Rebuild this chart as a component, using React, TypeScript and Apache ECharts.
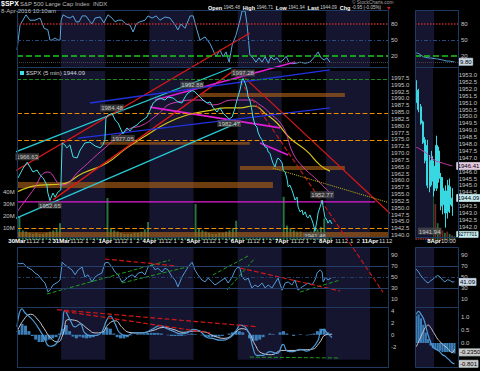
import React, { useEffect, useRef } from "react";
import * as echarts from "echarts";

// ---------------- header values ----------------
const symbolName = "$SPX";
const symbolDesc = "S&P 500 Large Cap Index  INDX";
const stampText = "8-Apr-2016 10:10am";
const quoteItems = [["Open", "1945.48"], ["High", "1946.71"], ["Low", "1941.94"], ["Last", "1944.09"], ["Chg", "-0.95 (-0.05%)"]];
const legendText = "$SPX (5 min) 1944.09";

// ---------------- left (5 min, several days) ----------------
// x unit: half-hour slot since the first session open (13 slots per session)
const dayLabels = ["30Mar", "31Mar", "1Apr", "4Apr", "5Apr", "6Apr", "7Apr", "8Apr", "11Apr"];
const hourTicks = ["", "", "", "11", "", "12", "", "1", "", "2", "", "", ""];
const dayBands = [[13, 26], [39, 52], [65, 78], [91, 104]];

const spxPrice = [
  [0.3, 1960.9], [1.8, 1964.5], [3.0, 1966.63], [4.7, 1963.1], [5.9, 1963.8], [6.8, 1962.0], [7.7, 1960.9],
  [8.8, 1958.3], [9.1, 1955.4], [9.7, 1952.65], [10.6, 1955.4], [11.2, 1953.9], [12.1, 1955.8], [12.9, 1956.5],
  [13.3, 1973.7], [14.1, 1973.0], [14.7, 1971.9], [15.6, 1973.0], [16.5, 1968.6], [17.7, 1968.2], [18.6, 1971.1],
  [20.0, 1973.7], [21.5, 1974.0], [23.0, 1972.6], [24.5, 1971.9], [25.3, 1973.0], [25.9, 1974.8], [26.2, 1982.8],
  [26.8, 1983.9], [28.0, 1984.48], [28.9, 1982.1], [29.8, 1981.0], [30.3, 1979.5], [31.2, 1977.05], [32.4, 1979.2],
  [33.3, 1978.1], [34.2, 1979.5], [35.4, 1980.3], [36.2, 1981.4], [37.1, 1982.1], [38.3, 1983.2], [39.2, 1985.7],
  [40.1, 1988.3], [41.2, 1989.4], [42.1, 1990.1], [43.6, 1989.4], [44.5, 1990.5], [46.0, 1990.1], [47.4, 1988.7],
  [48.6, 1988.3], [49.5, 1990.5], [50.4, 1992.0], [51.6, 1992.88], [52.4, 1992.4], [53.9, 1990.5], [54.8, 1989.4],
  [56.0, 1988.3], [56.9, 1988.7], [57.7, 1986.8], [58.9, 1985.0], [59.8, 1986.5], [60.7, 1984.6], [61.9, 1983.2],
  [62.5, 1982.47], [63.4, 1983.2], [64.3, 1986.8], [64.8, 1989.4], [65.7, 1993.1], [66.3, 1996.7], [66.6, 1997.28],
  [67.2, 1995.6], [67.8, 1993.1], [68.1, 1990.5], [68.6, 1989.4], [69.2, 1985.7], [69.5, 1983.2], [70.1, 1980.3],
  [70.7, 1979.5], [71.0, 1977.7], [71.6, 1975.9], [72.2, 1974.8], [72.5, 1973.7], [73.1, 1972.2], [73.7, 1971.9],
  [74.0, 1970.4], [74.5, 1970.0], [75.1, 1967.5], [75.4, 1966.4], [76.0, 1964.9], [76.6, 1967.5], [76.9, 1968.2],
  [77.5, 1967.5], [78.1, 1966.4], [78.4, 1963.8], [79.0, 1963.1], [79.6, 1960.2], [79.9, 1957.6], [80.4, 1958.3],
  [81.0, 1956.5], [81.3, 1955.4], [81.9, 1952.85], [82.5, 1953.9], [82.8, 1950.3], [83.4, 1948.5], [84.0, 1949.2],
  [84.3, 1947.4], [84.9, 1948.5], [85.4, 1946.6], [85.7, 1946.3], [86.3, 1947.4], [86.9, 1945.5], [87.2, 1944.4],
  [87.8, 1941.46], [88.4, 1945.5], [88.7, 1948.1], [89.3, 1950.3], [89.9, 1952.77], [90.2, 1950.3], [90.7, 1946.6],
  [91.3, 1945.5], [91.6, 1944.4], [92.2, 1945.5], [92.8, 1944.09],
];
const pivotHighs = [[3.0, 1966.63], [28.0, 1984.48], [51.6, 1992.88], [66.6, 1997.28], [89.9, 1952.77]];
const pivotLows = [[9.7, 1952.65], [31.2, 1977.05], [62.5, 1982.47], [87.8, 1941.46]];

const maPink = [
  [0, 1948.5], [4.5, 1956.0], [9.1, 1963.1], [13.3, 1958.3], [18.6, 1963.8], [25.9, 1971.9], [32.4, 1978.4],
  [37.1, 1980.3], [41.2, 1983.9], [46.0, 1988.3], [53.9, 1989.4], [57.7, 1987.6], [63.6, 1989.4], [68.6, 1989.4],
  [71.6, 1987.6], [74.5, 1984.6], [78.4, 1979.5], [81.3, 1970.0], [84.3, 1964.9], [88.4, 1960.2], [92.2, 1955.4],
];
const maYellow = [
  [0, 1955.8], [6.8, 1958.3], [12.7, 1958.6], [19.5, 1962.7], [26.5, 1966.4], [32.4, 1971.9], [38.3, 1976.6],
  [44.2, 1981.0], [50.1, 1983.9], [56.0, 1985.4], [61.9, 1986.5], [65.7, 1986.5], [69.5, 1987.2], [73.7, 1983.9],
  [76.6, 1981.0], [80.4, 1975.5], [85.4, 1970.7], [89.3, 1965.6], [92.2, 1963.4],
];
// volume in millions per half-hour slot
const volumeM = [
  20, 8, 7, 6, 5, 6, 5, 5, 6, 7, 8, 9, 14,
  40, 12, 9, 7, 6, 6, 5, 5, 6, 6, 7, 8, 13,
  35, 10, 8, 7, 6, 5, 5, 5, 6, 6, 7, 9, 15,
  38, 11, 8, 7, 6, 6, 5, 5, 6, 7, 8, 9, 14,
  30, 10, 8, 7, 6, 5, 5, 6, 6, 7, 8, 10, 16,
  40, 12, 9, 8, 7, 6, 6, 6, 7, 8, 9, 10, 15,
  36, 12, 10, 8, 7, 7, 6, 6, 7, 8, 9, 11, 18,
  34, 14,
];
const stochTop = [
  [0, 32], [0.9, 78], [2.65, 97], [3.8, 87], [5.3, 87], [6.8, 91], [8.0, 72], [9.1, 69], [9.7, 50], [10.3, 50],
  [11.2, 54], [12.1, 50], [12.7, 50], [13.0, 87], [13.55, 97], [14.7, 93], [15.6, 91], [16.5, 95], [17.4, 84],
  [18.3, 84], [19.2, 95], [20.3, 95], [21.2, 87], [22.1, 80], [23.0, 91], [24.5, 93], [25.6, 82], [26.8, 97],
  [28.0, 91], [28.9, 84], [29.8, 87], [30.9, 87], [32.1, 80], [33.3, 78], [34.2, 65], [35.1, 80], [36.2, 84],
  [37.7, 87], [38.6, 95], [39.8, 91], [41.0, 95], [42.1, 87], [43.6, 93], [45.1, 91], [46.6, 78], [47.4, 69],
  [48.3, 80], [49.5, 72], [51.0, 95], [51.9, 95], [53.0, 69], [53.9, 50], [55.4, 56], [56.9, 43], [57.7, 32],
  [58.6, 19], [59.8, 32], [60.7, 19], [61.6, 28], [62.5, 9], [63.4, 41], [64.5, 59], [65.7, 87], [66.3, 104],
  [67.2, 104], [67.8, 78], [68.6, 22], [69.5, 17], [70.4, 9], [71.3, 17], [72.2, 9], [73.1, 19], [74.0, 7],
  [74.8, 19], [75.7, 13], [76.6, 17], [77.5, 9], [78.4, 13], [79.3, 20], [80.1, 9], [81.0, 6], [82.2, 7],
  [83.4, 9], [84.9, 7], [86.3, 9], [87.8, 20], [88.7, 28], [89.6, 17], [90.5, 13], [91.3, 17], [92.2, 9],
];
const rsiMid = [
  [0, 75.5], [0.9, 74], [1.8, 75], [2.9, 68], [4.4, 63], [5.3, 57], [6.2, 54], [7.4, 44.5], [8.25, 39], [9.1, 23],
  [9.7, 26], [10.6, 35.5], [12.1, 41], [12.7, 44.5], [13.3, 77], [14.1, 72], [15.0, 68], [16.2, 63], [17.1, 54],
  [18.0, 63], [19.2, 68], [20.0, 50], [20.9, 54], [22.1, 41], [23.0, 50], [23.9, 54], [25.0, 57], [25.9, 75.5],
  [26.8, 77], [28.0, 68], [28.9, 59], [29.8, 54], [30.9, 41], [31.8, 44.5], [32.7, 50], [33.9, 54], [34.8, 50],
  [35.7, 57], [36.8, 59], [37.7, 54], [38.6, 68], [39.8, 72], [40.7, 63], [41.5, 66], [42.7, 59], [43.6, 66],
  [44.5, 63], [45.7, 50], [46.6, 44.5], [47.4, 32], [48.6, 50], [49.5, 59], [50.4, 68], [51.6, 77], [52.4, 63],
  [53.3, 54], [54.5, 44.5], [55.4, 41], [56.3, 48], [57.5, 41], [58.3, 35.5], [59.2, 39], [60.4, 44.5], [61.3, 48],
  [62.2, 39], [63.4, 50], [64.3, 63], [65.1, 68], [65.7, 66], [66.3, 50], [67.2, 44.5], [68.1, 48], [69.2, 30],
  [70.1, 35.5], [71.0, 32], [72.2, 39], [73.1, 30], [74.0, 35.5], [75.1, 30], [76.0, 39], [76.9, 48], [78.1, 26],
  [79.0, 39], [79.9, 41], [81.0, 35.5], [81.9, 44.5], [82.8, 26], [84.0, 32], [84.9, 35.5], [85.7, 39], [86.9, 35.5],
  [87.8, 44.5], [88.4, 57], [89.3, 63], [89.9, 59], [90.2, 41], [91.0, 50], [91.6, 44.5], [92.5, 48],
];
const macdLine = [
  [0, 1.33], [1.5, 4.3], [2.4, 3.6], [4.7, 2.4], [7.7, -0.15], [9.7, -1.9], [11.8, -1.3], [13.3, 1.3], [14.1, 4.0],
  [15.6, 2.5], [17.1, 1.3], [18.6, 1.8], [20.0, 0.3], [22.4, -0.15], [24.5, 0.15], [26.5, 2.5], [27.4, 3.1],
  [28.9, 1.8], [30.3, 0.3], [32.4, -0.15], [34.2, 0.3], [37.1, 0.3], [40.1, 1.0], [42.1, 1.5], [44.2, 1.0],
  [46.0, 0.6], [48.0, 0.15], [50.1, 0.3], [51.9, 0.9], [53.9, 0.6], [56.0, -0.45], [57.7, -0.6], [59.8, -0.9],
  [62.8, -0.45], [64.8, 0.9], [65.7, 1.6], [67.2, 1.3], [68.6, -0.15], [69.5, -2.1], [70.7, -3.4], [72.5, -3.4],
  [74.5, -2.8], [76.6, -3.1], [78.4, -1.6], [79.6, -2.7], [81.3, -2.8], [83.4, -2.4], [85.4, -2.7], [87.2, -2.1],
  [88.7, -0.9], [89.3, 0.3], [90.2, 0.9], [91.6, 0.15], [92.8, -0.45],
];
const macdSignal = [
  [0, 0.5], [2, 2.5], [4, 3.4], [6, 2.6], [8, 1.0], [10, -0.6], [12, -1.2], [13.5, 0.0], [15, 2.5], [17, 2.4],
  [19, 1.8], [21, 0.9], [23, 0.3], [25, 0.4], [27, 1.8], [29, 2.3], [31, 1.2], [33, 0.4], [36, 0.3], [40, 0.7],
  [43, 1.2], [46, 0.9], [49, 0.4], [52, 0.6], [55, 0.5], [58, -0.2], [61, -0.6], [64, 0.2], [66, 1.0], [68, 0.6],
  [70, -1.5], [72, -3.0], [75, -3.3], [78, -2.6], [81, -2.6], [84, -2.5], [87, -2.4], [89, -1.4], [91, 0.0],
  [92.8, 0.1],
];
const macdHist = [
  0.8, 1.8, 1.5, 0.6, -0.2, -0.8, -1.2, -1.2, -1.0, -0.8, -0.6, -0.4, 0.2,
  1.0, 1.6, 0.6, -0.3, -0.6, -0.3, -0.5, -0.6, -0.5, -0.4, -0.2, 0.0, 0.6,
  1.2, 1.0, 0.2, -0.4, -0.6, -0.6, -0.4, -0.1, 0.0, 0.1, 0.1, 0.2, 0.3,
  0.3, 0.3, 0.3, 0.2, 0.0, -0.1, -0.2, -0.2, -0.2, -0.2, -0.1, 0.1, 0.2,
  0.1, 0.0, -0.1, -0.3, -0.4, -0.4, -0.4, -0.3, -0.2, 0.0, 0.2, 0.4, 0.6,
  0.6, 0.4, 0.0, -0.6, -1.0, -1.0, -0.8, -0.4, 0.0, 0.2, 0.1, 0.0, 0.4,
  0.6, 0.2, 0.0, -0.2, 0.0, 0.1, 0.0, -0.1, 0.1, 0.2, 0.6, 1.0, 1.0,
  0.4, 0.1,
];

// annotation levels / zones / trendlines (slot, price)
const levelsOrange = [1984.6, 1974.8, 1942.6];
const levelGreen = 1997.0;
const levelMagenta = 1952.2;
const zones = [
  [-5, 109.3, 1939.3, 1941.2],
  [-5, 75.4, 1957.2, 1959.4],
  [65.7, 96.6, 1963.8, 1965.3],
  [54.0, 96.6, 1990.5, 1992.0],
  [24.5, 68.6, 1973.0, 1974.05],
];
const cyanLines = [
  [[-5.0, 1968.2], [63.1, 2001.1]],
  [[-5.0, 1943.7], [65.7, 1981.4]],
];
const redRise = [
  [[-5.0, 1960.2], [68.6, 2013.9]],
  [[10.6, 1952.9], [64.3, 2000.5]],
];
const redFall = [
  [[67.2, 1997.4], [112.0, 1945.5]],
];
const redFallDashed = [
  [[64.5, 1998.5], [107.8, 1919.2]],
];
const magentaLines = [
  [[40.7, 1989.4], [81.9, 2003.3]],
  [[39.2, 1986.8], [77.5, 1979.2]],
  [[71.6, 1973.7], [79.9, 1969.3]],
];
const blueLines = [
  [[21.5, 1988.3], [92.2, 2000.4]],
  [[18.0, 1975.5], [92.2, 1986.5]],
];
const yellowDotted = [[75.4, 1964.5], [114.9, 1949.9]];
const rsiGreenLines = [
  [[8.8, 19.1], [45.1, 80.9]],
  [[30.9, 39.1], [50.1, 68.2]],
  [[57.7, 53.6], [68.6, 90]],
  [[61.9, 26.4], [70.1, 84.5]],
  [[83.4, 22.7], [95.2, 44.5]],
];
const rsiRedLines = [
  [[25.9, 82.7], [47.1, 70]],
  [[65.7, 66.4], [95.2, 24.5]],
];
const macdRedLines = [
  [[11.8, 4.15], [70.7, 1.33]],
  [[14.1, 3.85], [56.9, 0.3]],
];
const macdGreenLines = [[[68.6, -3.7], [95.2, -3.85]]];

// ---------------- right (5 min, last bars) ----------------
const rightTimes = ["15:20", "15:25", "15:30", "15:35", "15:40", "15:45", "15:50", "15:55", "9:30", "9:35", "9:40",
  "9:45", "9:50", "9:55", "10:00", "10:05", "10:10", "10:15"];
const rightMarks = { 8: "8Apr", 14: "10:00" } as Record<number, string>;
// [open, close, low, high]
const rightCandles = [
  [1952.6, 1951.0, 1950.9, 1952.8], [1951.9, 1950.5, 1950.3, 1952.0], [1950.7, 1949.5, 1949.4, 1950.9],
  [1949.6, 1948.1, 1948.0, 1949.7], [1948.3, 1946.8, 1946.6, 1948.5], [1947.9, 1945.0, 1944.8, 1948.3],
  [1946.8, 1944.9, 1944.5, 1947.2], [1945.3, 1947.1, 1945.0, 1947.5], [1946.4, 1944.6, 1944.2, 1946.8],
  [1944.8, 1947.9, 1944.6, 1948.6], [1947.5, 1945.5, 1945.2, 1947.8], [1945.6, 1943.5, 1943.2, 1945.9],
  [1943.6, 1944.8, 1942.9, 1945.6], [1944.6, 1943.0, 1941.94, 1945.0], [1943.1, 1945.0, 1942.6, 1945.4],
  [1944.9, 1943.6, 1943.0, 1945.5], [1943.5, 1944.09, 1942.8, 1944.8],
];
const rightLow = [6, 1941.94];
const rightVolume = [5, 6, 8, 10, 14, 22, 35, 42, 30, 14, 10, 8, 6, 7, 5, 4, 3];
const rightMA = [1947.75, 1947.7, 1947.6, 1947.5, 1947.4, 1947.25, 1947.1, 1946.95, 1946.85, 1946.75, 1946.7,
  1946.65, 1946.6, 1946.55, 1946.5, 1946.45, 1946.41];
const rightStoch = [26, 25, 22, 19, 18, 17, 16.7, 16, 15.5, 15, 14, 13, 12, 11, 11, 10, 9.8];
const rightRsi = [64.5, 59, 52, 47, 42, 39, 43, 46, 50, 53, 50, 44.5, 41, 45, 44, 41, 41.09];
const rightMacd = [1.1, 1.22, 1.1, 0.95, 0.65, 0.3, 0.05, -0.15, -0.22, -0.28, -0.35, -0.45, -0.5, -0.58, -0.67,
  -0.76, -0.801];
const rightSignal = [-0.15, 0.05, 0.25, 0.45, 0.62, 0.69, 0.6, 0.45, 0.3, 0.15, 0.05, -0.05, -0.12, -0.2, -0.3,
  -0.38, -0.235];
const rightHist = [1.05, 1.1, 0.95, 0.7, 0.4, 0.15, -0.1, -0.2, -0.25, -0.3, -0.3, -0.35, -0.35, -0.35, -0.35,
  -0.37, -0.4];
const rightVolumeLast = "9277701";

// ---------------- styling ----------------
const FONT = "Liberation Sans";
const LBL = { color: "#c4c4c4", fontSize: 6, fontFamily: FONT };
const BAND = "#15152f";
const FRAME = "#1f3a60";
const LMAX = 109.3;

function buildOption(): any {
  const none = ["none", "none"];
  const hiddenX = (gi: number) => ({ type: "value", gridIndex: gi, min: 0, max: LMAX, show: false });
  const hiddenXR = (gi: number) => ({ type: "value", gridIndex: gi, min: -0.5, max: 17.5, show: false });
  const yBase = (gi: number, min: number, max: number, interval: number, fmt: (v: number) => string, pos = "right") => ({
    type: "value", gridIndex: gi, min, max, interval, position: pos,
    axisLine: { show: false }, axisTick: { show: false }, splitLine: { show: false },
    axisLabel: { ...LBL, margin: 3, formatter: fmt },
  });
  const only = (vals: number[], dec = 0, suffix = "") => (v: number) =>
    vals.some((t) => Math.abs(t - v) < 1e-6) ? v.toFixed(dec) + suffix : "";

  const trend = (name: string, pts: number[][], xi: number, yi: number, color: string, width = 1.2, type: any = "solid", z = 4) => ({
    name, type: "line", xAxisIndex: xi, yAxisIndex: yi, data: pts, symbol: "none", clip: false, silent: true, z,
    lineStyle: { color, width, type },
  });
  const bandArea = (xi: number, yi: number, ylo?: number, yhi?: number, ranges = dayBands) => ({
    type: "line", xAxisIndex: xi, yAxisIndex: yi, data: [], silent: true, clip: false, z: 0,
    markArea: {
      silent: true, itemStyle: { color: BAND },
      data: ranges.map(([a, b]) =>
        ylo === undefined ? [{ xAxis: a }, { xAxis: b }] : [{ xAxis: a, yAxis: ylo }, { xAxis: b, yAxis: yhi }]),
    },
  });
  // value box drawn just right of a right-hand panel, at the level of the value
  const endBox = (xi: number, yi: number, v: number, text: string, bg: string, size = 6) => ({
    type: "line", xAxisIndex: xi, yAxisIndex: yi, data: [], silent: true, z: 20, zlevel: 1,
    markLine: {
      silent: true, symbol: none,
      lineStyle: { color: "rgba(0,0,0,0)", width: 0 },
      label: { show: true, position: "end", distance: 1, formatter: text, color: "#000", backgroundColor: bg,
        fontSize: size, fontFamily: FONT, padding: [1, 1, 0, 1], borderColor: "#9aa", borderWidth: 0.5 },
      data: [[{ coord: [16, v] }, { coord: [17.5, v] }]],
    },
  });

  const series: any[] = [];
  // ---- day bands
  series.push(bandArea(0, 0));
  series.push(bandArea(1, 1, 1939.3, 2001.4));
  series.push(bandArea(3, 3, -4.5, 104.5));
  series.push(bandArea(4, 4, -4.15, 4.74));
  const rBand = [[-0.5, 7.5]];
  series.push(bandArea(5, 5, undefined, undefined, rBand));
  series.push(bandArea(6, 6, 1941.2, 1953.8, rBand));
  series.push(bandArea(8, 8, -4.5, 104.5, rBand));
  series.push(bandArea(9, 9, -0.92, 1.38, rBand));

  // ---- top stochastic
  const topLines = (xi: number, yi: number) => ({
    type: "line", xAxisIndex: xi, yAxisIndex: yi, data: [], silent: true, z: 1,
    markLine: {
      silent: true, symbol: none, label: { show: false },
      data: [
        { yAxis: 80, lineStyle: { color: "#c0282d", type: "dotted", width: 1.5 } },
        { yAxis: 50, lineStyle: { color: "#284a80", type: [4, 2, 1, 2], width: 1 } },
        { yAxis: 20, lineStyle: { color: "#1ec81e", type: "dashed", width: 1.5 } },
        { yAxis: 8, lineStyle: { color: "#444", type: "dotted", width: 1 } },
      ],
    },
  });
  series.push(topLines(0, 0));
  series.push(topLines(5, 5));
  series.push({ type: "line", xAxisIndex: 0, yAxisIndex: 0, data: stochTop, symbol: "none", z: 3,
    lineStyle: { color: "#5aa5dc", width: 1 } });

  // ---- main price panel
  series.push({
    type: "line", xAxisIndex: 1, yAxisIndex: 1, data: [], silent: true, clip: false, z: 1,
    markArea: {
      silent: true, itemStyle: { color: "rgba(176,98,24,0.62)" },
      data: zones.map(([a, b, lo, hi]) => [{ xAxis: a, yAxis: lo }, { xAxis: b, yAxis: hi }]),
    },
    markLine: {
      silent: true, symbol: none, label: { show: false },
      data: [
        ...levelsOrange.map((v) => ({ yAxis: v, lineStyle: { color: "#f08c00", type: "dashed", width: 1.2 } })),
        { yAxis: levelGreen, lineStyle: { color: "#1a8a1a", type: "dashed", width: 1 } },
      ],
    },
  });
  series.push(trend("magentaLevel", [[0, levelMagenta], [105.5, levelMagenta]], 1, 1, "#e01ed6", 1.2));
  // volume
  series.push({
    type: "bar", xAxisIndex: 2, yAxisIndex: 2, z: 0, barWidth: 2, silent: true,
    data: volumeM.map((v, i) => [i + 0.5, v]),
    itemStyle: { color: "#2a7444" },
  });
  // MAs
  series.push({ type: "line", xAxisIndex: 1, yAxisIndex: 1, data: maYellow, symbol: "none", smooth: true, z: 3,
    lineStyle: { color: "#d6c51c", width: 1.2 } });
  series.push({ type: "line", xAxisIndex: 1, yAxisIndex: 1, data: maPink, symbol: "none", smooth: true, z: 3,
    lineStyle: { color: "#d23cb4", width: 1 } });
  // trendlines
  cyanLines.forEach((p, i) => series.push(trend("cy" + i, p, 1, 1, "#28c8d2", 1.3)));
  redRise.forEach((p, i) => series.push(trend("rr" + i, p, 1, 1, "#d81818", 1.3)));
  redFall.forEach((p, i) => series.push(trend("rf" + i, p, 1, 1, "#d81818", 1.2)));
  redFallDashed.forEach((p, i) => series.push(trend("rfd" + i, p, 1, 1, "#c01818", 1.2, "dashed")));
  magentaLines.forEach((p, i) => series.push(trend("mg" + i, p, 1, 1, "#e01ed6", 1.6)));
  blueLines.forEach((p, i) => series.push(trend("bl" + i, p, 1, 1, "#2232e0", 1.3)));
  series.push(trend("ydot", yellowDotted, 1, 1, "#c8b814", 1, "dotted"));
  // price
  series.push({ type: "line", xAxisIndex: 1, yAxisIndex: 1, data: spxPrice, symbol: "none", z: 6,
    lineStyle: { color: "#3fe0e6", width: 1 } });
  const pivotLabel = (pos: string, dist = 2) => ({
    show: true, position: pos, distance: dist, formatter: (p: any) => p.value[1].toFixed(2),
    color: "#e8e8e8", fontSize: 6, fontFamily: FONT, backgroundColor: "rgba(80,80,80,0.85)", padding: [1, 1, 0, 1],
  });
  series.push({ type: "scatter", xAxisIndex: 1, yAxisIndex: 1, data: pivotHighs, symbolSize: 0, z: 8,
    label: pivotLabel("top") });
  series.push({ type: "scatter", xAxisIndex: 1, yAxisIndex: 1, data: pivotLows, symbolSize: 0, z: 8,
    label: pivotLabel("bottom", 1) });

  // ---- mid RSI
  const rsiLines = (xi: number, yi: number) => ({
    type: "line", xAxisIndex: xi, yAxisIndex: yi, data: [], silent: true, z: 1,
    markLine: {
      silent: true, symbol: none, label: { show: false },
      data: [
        { yAxis: 70, lineStyle: { color: "#24406a", type: "solid", width: 1 } },
        { yAxis: 50, lineStyle: { color: "#24406a", type: [4, 2, 1, 2], width: 1 } },
        { yAxis: 30, lineStyle: { color: "#24406a", type: "solid", width: 1 } },
      ],
    },
  });
  series.push(rsiLines(3, 3));
  series.push(rsiLines(8, 8));
  series.push({ type: "line", xAxisIndex: 3, yAxisIndex: 3, data: rsiMid, symbol: "none", z: 3,
    lineStyle: { color: "#4f9ad8", width: 1 } });
  rsiGreenLines.forEach((p, i) => series.push(trend("rg" + i, p, 3, 3, "#1f9a1f", 1, "dashed")));
  rsiRedLines.forEach((p, i) => series.push(trend("rrd" + i, p, 3, 3, "#d01818", 1.2, "dashed")));

  // ---- MACD
  series.push({ type: "bar", xAxisIndex: 4, yAxisIndex: 4, barWidth: 3, z: 2, silent: true,
    data: macdHist.map((v, i) => [i + 0.5, v]), itemStyle: { color: "#3c7fb8" } });
  series.push({ type: "line", xAxisIndex: 4, yAxisIndex: 4, data: macdSignal, symbol: "none", smooth: true, z: 3,
    lineStyle: { color: "#c8c8d0", width: 1 } });
  series.push({ type: "line", xAxisIndex: 4, yAxisIndex: 4, data: macdLine, symbol: "none", smooth: true, z: 4,
    lineStyle: { color: "#4f9ad8", width: 1.2 } });
  macdRedLines.forEach((p, i) => series.push(trend("mr" + i, p, 4, 4, "#d01818", 1.2, "dashed")));
  macdGreenLines.forEach((p, i) => series.push(trend("mgl" + i, p, 4, 4, "#1f9a1f", 1, "dashed")));

  // ---- right panels
  const ri = (arr: number[]) => arr.map((v, i) => [i, v]);
  const last = rightCandles.length - 1;
  series.push({ type: "line", xAxisIndex: 5, yAxisIndex: 5, data: ri(rightStoch), symbol: "none", smooth: true, z: 3,
    lineStyle: { color: "#5aa5dc", width: 1 } });
  series.push(endBox(5, 5, rightStoch[last], rightStoch[last].toFixed(2), "#c9d6e6"));
  series.push({ type: "bar", xAxisIndex: 7, yAxisIndex: 7, barWidth: 1.8, z: 0, silent: true,
    data: rightVolume.map((v, i) => ({ value: [i, v],
      itemStyle: { color: rightCandles[i][1] >= rightCandles[i][0] ? "#246e3c" : "#6a2a2a" } })) });
  series.push({
    type: "candlestick", xAxisIndex: 10, yAxisIndex: 6, z: 5, barWidth: 1.6,
    data: rightCandles,
    itemStyle: { color: "#38d8e0", color0: "#38d8e0", borderColor: "#38d8e0", borderColor0: "#38d8e0", borderWidth: 1 },
  });
  series.push({ type: "line", xAxisIndex: 6, yAxisIndex: 6, data: ri(rightMA), symbol: "none", smooth: true, z: 6,
    lineStyle: { color: "#d23cb4", width: 1 } });
  series.push(endBox(6, 6, rightMA[last], rightMA[last].toFixed(2), "#e7c6e0"));
  series.push(endBox(6, 6, rightCandles[last][1], rightCandles[last][1].toFixed(2), "#c8eef2"));
  series.push(endBox(6, 6, 1941.45, rightVolumeLast, "#c8eef2", 5));
  series.push({ type: "scatter", xAxisIndex: 6, yAxisIndex: 6, data: [rightLow], symbolSize: 0, z: 8,
    label: pivotLabel("bottom", 0) });
  series.push({ type: "line", xAxisIndex: 8, yAxisIndex: 8, data: ri(rightRsi), symbol: "none", z: 3,
    lineStyle: { color: "#4f9ad8", width: 1 } });
  series.push(endBox(8, 8, rightRsi[last], rightRsi[last].toFixed(2), "#c9d6e6"));
  series.push({ type: "bar", xAxisIndex: 9, yAxisIndex: 9, barWidth: 2.2, z: 2, silent: true,
    data: ri(rightHist), itemStyle: { color: "#3c7fb8" } });
  series.push({ type: "line", xAxisIndex: 9, yAxisIndex: 9, data: ri(rightSignal), symbol: "none", smooth: true, z: 3,
    lineStyle: { color: "#c8c8d0", width: 1 } });
  series.push({ type: "line", xAxisIndex: 9, yAxisIndex: 9, data: ri(rightMacd), symbol: "none", smooth: true, z: 4,
    lineStyle: { color: "#4f9ad8", width: 1.2 } });
  series.push(endBox(9, 9, -0.36, rightSignal[last].toFixed(4), "#c9c9c9"));
  series.push(endBox(9, 9, -0.8, rightMacd[last].toFixed(3), "#c9c9c9"));

  // right-axis values hidden behind the value boxes
  const covered = [rightMA[last], rightCandles[last][1], 1941.45];

  const grids = [
    { left: 17, top: 10, width: 371, height: 57 },
    { left: 17, top: 71, width: 371, height: 171 },
    { left: 17, top: 180, width: 371, height: 60 },
    { left: 17, top: 244, width: 371, height: 66 },
    { left: 17, top: 298.5, width: 371, height: 81 },
    { left: 415, top: 10, width: 43, height: 57 },
    { left: 415, top: 68.1, width: 43, height: 172.5 },
    { left: 415, top: 180, width: 43, height: 60 },
    { left: 415, top: 244, width: 43, height: 66 },
    { left: 415, top: 304, width: 43, height: 65 },
  ];

  const leftDateFmt = (v: number) => {
    const k = Math.round(v);
    if (Math.abs(v - k) > 0.01) return "";
    const d = Math.floor(k / 13), s = k % 13;
    if (s === 0) return dayLabels[d] ? "{d|" + dayLabels[d] + "}" : "";
    return hourTicks[s] ? "{h|" + hourTicks[s] + "}" : "";
  };
  const rightDateFmt = (v: number) => {
    const k = Math.round(v + 0.5);
    const t = rightMarks[k];
    if (!t) return "";
    return k === 8 ? "{d|" + t + "}" : t;
  };
  const rich = {
    d: { color: "#ffffff", fontSize: 6, fontFamily: FONT, fontWeight: "bold" },
    h: { color: "#d8d8d8", fontSize: 6, fontFamily: FONT, padding: [0, 0, 0, 4] },
  };

  const xAxis = [
    hiddenX(0), hiddenX(1), hiddenX(2),
    { type: "value", gridIndex: 3, min: 0, max: LMAX, interval: 1, position: "top",
      axisLine: { show: false }, axisTick: { show: false }, splitLine: { show: false },
      axisLabel: { ...LBL, color: "#d8d8d8", margin: 3, verticalAlign: "middle", formatter: leftDateFmt, rich } },
    hiddenX(4),
    hiddenXR(5), hiddenXR(6), hiddenXR(7),
    { type: "value", gridIndex: 8, min: -0.5, max: 17.5, interval: 1, position: "top",
      axisLine: { show: false }, axisTick: { show: false }, splitLine: { show: false },
      axisLabel: { ...LBL, color: "#d8d8d8", margin: 3, verticalAlign: "middle", formatter: rightDateFmt, rich } },
    hiddenXR(9),
    { type: "category", gridIndex: 6, data: rightTimes, boundaryGap: true, show: false },
  ];
  const yAxis = [
    yBase(0, 0, 106, 10, only([20, 50, 80])),
    yBase(1, 1937.5, 2000, 2.5, (v) => (v < 1939 || v > 1998 ? "" : v.toFixed(1))),
    yBase(2, 0, 50, 10, only([10, 20, 30, 40], 0, "M"), "left"),
    yBase(3, -10, 110, 20, only([10, 30, 50, 70, 90])),
    yBase(4, -6, 6, 2, only([-2, 0, 2, 4])),
    yBase(5, 0, 106, 10, only([20, 50, 80])),
    yBase(6, 1941, 1953.5, 0.5, (v) =>
      v < 1941.4 || v > 1953.1 || covered.some((c) => Math.abs(c - v) < 0.3) ? "" : v.toFixed(1)),
    { ...yBase(7, 0, 50, 10, () => ""), show: false },
    yBase(8, -10, 110, 20, only([10, 30, 50, 70, 90])),
    yBase(9, -1, 1.5, 0.5, only([0, 0.5, 1], 1)),
  ];

  const frames = [
    [17, 10, 371, 57], [17, 67, 371, 170], [17, 247, 371, 60], [17, 307, 371, 60],
    [415, 10, 43, 57], [415, 67, 43, 170], [415, 247, 43, 60], [415, 307, 43, 60],
  ];
  const graphic: any[] = frames.map(([x, y, w, h]) => ({
    type: "rect", shape: { x: x + 0.5, y: y + 0.5, width: w, height: h }, silent: true, z: 100,
    style: { fill: "none", stroke: FRAME, lineWidth: 1 },
  }));
  const quoteRich = "{b|" + quoteItems.map(([k, v]) => k + "} {v|" + v + "}").join("  {b|");
  graphic.push(
    { type: "text", x: 1, y: 0, z: 101, style: { text: symbolName, fill: "#ffffff", font: "bold 7px " + FONT } },
    { type: "text", x: 20, y: 0.5, z: 101, style: { text: symbolDesc, fill: "#bdbdbd", font: "6px " + FONT } },
    { type: "text", x: 1, y: 8, z: 101, style: { text: stampText, fill: "#bdbdbd", font: "6px " + FONT } },
    { type: "text", x: 208, y: 4.5, z: 101, style: {
      text: quoteRich, fill: "#dcdcdc", font: "5px " + FONT,
      rich: {
        b: { fill: "#ffffff", font: "bold 5.5px " + FONT },
        v: { fill: "#cfcfcf", font: "4.6px " + FONT },
      } } },
    { type: "text", x: 387, y: 4.5, z: 101, style: { text: "▾", fill: "#e02020", font: "6px " + FONT } },
    { type: "text", x: 352, y: 0, z: 101, style: { text: "© StockCharts.com", fill: "#a0a0a0", font: "4.8px " + FONT } },
    { type: "rect", shape: { x: 20, y: 71, width: 4, height: 4 }, z: 101, style: { fill: "#3fe0e6" } },
    { type: "text", x: 26, y: 70, z: 101, style: { text: legendText, fill: "#d0d0d0", font: "6px " + FONT } },
  );

  return {
    animation: false,
    backgroundColor: "#000000",
    grid: grids.map((g) => ({ ...g, containLabel: false })),
    xAxis, yAxis, series, graphic,
  };
}

export default function App() {
  const ref = useRef<HTMLDivElement>(null);
  useEffect(() => {
    const chart = echarts.init(ref.current!, null, { renderer: "svg" });
    chart.setOption(buildOption());
    return () => chart.dispose();
  }, []);
  return (
    <div
      ref={ref}
      style={{ position: "absolute", left: 0, top: 0, width: 480, height: 371, background: "#000" }}
    />
  );
}
